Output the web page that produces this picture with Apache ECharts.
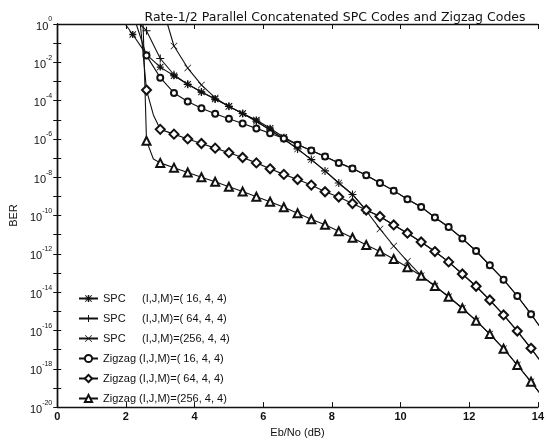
<!DOCTYPE html>
<html><head><meta charset="utf-8">
<script src="https://cdn.jsdelivr.net/npm/echarts@6/dist/echarts.min.js"></script>
<style>html,body{margin:0;padding:0;background:#fff}#c{width:547px;height:443px}</style>
</head><body><div id="c"></div>
<script>
// ---- data (Eb/No in dB, BER) ----
const xTicks = [0, 2, 4, 6, 8, 10, 12, 14];
const titleText = 'Rate-1/2 Parallel Concatenated SPC Codes and Zigzag Codes';
const seriesNames = [
  'SPC|(I,J,M)=( 16, 4, 4)',
  'SPC|(I,J,M)=( 64, 4, 4)',
  'SPC|(I,J,M)=(256, 4, 4)',
  'Zigzag|(I,J,M)=( 16, 4, 4)',
  'Zigzag|(I,J,M)=( 64, 4, 4)',
  'Zigzag|(I,J,M)=(256, 4, 4)'
];

const spc16X = [1.98, 2.2, 2.6, 3.0, 3.4, 3.8, 4.2, 4.6, 5.0, 5.4, 5.8, 6.2, 6.6, 7.0, 7.4, 7.8, 8.2, 8.6, 9.0, 9.4, 9.8, 10.2, 10.6, 11.0, 11.4, 11.8, 12.2, 12.6, 13.0, 13.4, 13.8, 14.2];
const spc16Y = [1, 2.82e-1, 2.51e-2, 5.62e-3, 2.0e-3, 7.08e-4, 2.82e-4, 1.2e-4, 5.01e-5, 2.14e-5, 9.77e-6, 3.63e-6, 1.23e-6, 5.13e-7, 2.51e-7, 1.2e-7, 5.62e-8, 2.82e-8, 1.26e-8, 5.01e-9, 2.0e-9, 7.08e-10, 2.82e-10, 7.94e-11, 2.51e-11, 6.31e-12, 1.41e-12, 2.51e-13, 4.47e-14, 6.31e-15, 7.08e-16, 7.08e-17];

const spc64X = [2.4, 2.6, 3.0, 3.4, 3.8, 4.2, 4.6, 5.0, 5.4, 5.8, 6.2, 6.6, 7.0, 7.4, 7.8, 8.2, 8.6, 9.0, 9.4, 9.8, 10.2, 10.6, 11.0, 11.4, 11.8, 12.2, 12.6, 13.0, 13.4, 13.8, 14.2];
const spc64Y = [1, 4.47e-1, 1.58e-2, 2.24e-3, 7.08e-4, 2.82e-4, 1.2e-4, 5.01e-5, 2.14e-5, 8.32e-6, 2.95e-6, 1.0e-6, 3.02e-7, 8.32e-8, 2.14e-8, 5.01e-9, 1.26e-9, 1.95e-10, 8.91e-11, 3.24e-11, 1.2e-11, 4.17e-12, 1.32e-12, 3.8e-13, 8.91e-14, 2.04e-14, 3.89e-15, 6.46e-16, 9.33e-17, 1.17e-17, 1.26e-18];

const spc256X = [3.21, 3.4, 3.8, 4.2, 4.6, 5.0, 5.4, 5.8, 6.2, 6.6, 7.0, 7.4, 7.8, 8.2, 8.6, 9.0, 9.4, 9.8, 10.2, 10.6, 11.0, 11.4, 11.8, 12.2, 12.6, 13.0, 13.4, 13.8, 14.2];
const spc256Y = [1, 7.08e-2, 5.01e-3, 6.61e-4, 1.38e-4, 5.01e-5, 2.14e-5, 8.32e-6, 2.95e-6, 1.0e-6, 3.02e-7, 8.32e-8, 2.14e-8, 5.01e-9, 1.26e-9, 1.78e-10, 2.0e-11, 2.57e-12, 4.07e-13, 7.24e-14, 2.09e-14, 5.75e-15, 1.45e-15, 3.24e-16, 6.46e-17, 1.12e-17, 1.58e-18, 2.09e-19, 2.51e-20];

const zig16X = [2.3, 2.6, 3.0, 3.4, 3.8, 4.2, 4.6, 5.0, 5.4, 5.8, 6.2, 6.6, 7.0, 7.4, 7.8, 8.2, 8.6, 9.0, 9.4, 9.8, 10.2, 10.6, 11.0, 11.4, 11.8, 12.2, 12.6, 13.0, 13.4, 13.8, 14.2];
const zig16Y = [1, 2.24e-2, 1.58e-3, 2.51e-4, 8.91e-5, 3.98e-5, 2.09e-5, 1.12e-5, 6.31e-6, 3.55e-6, 2.0e-6, 1.05e-6, 5.01e-7, 2.51e-7, 1.2e-7, 5.62e-8, 2.82e-8, 1.26e-8, 5.01e-9, 2.0e-9, 7.08e-10, 2.82e-10, 7.94e-11, 2.51e-11, 6.31e-12, 1.41e-12, 2.51e-13, 4.47e-14, 6.31e-15, 7.08e-16, 7.08e-17];

const zig64X = [2.42, 2.6, 2.8, 3.0, 3.4, 3.8, 4.2, 4.6, 5.0, 5.4, 5.8, 6.2, 6.6, 7.0, 7.4, 7.8, 8.2, 8.6, 9.0, 9.4, 9.8, 10.2, 10.6, 11.0, 11.4, 11.8, 12.2, 12.6, 13.0, 13.4, 13.8, 14.2];
const zig64Y = [1, 3.55e-4, 1.78e-5, 3.16e-6, 1.78e-6, 1.0e-6, 5.75e-7, 3.31e-7, 1.91e-7, 1.07e-7, 5.62e-8, 2.75e-8, 1.41e-8, 7.59e-9, 3.89e-9, 1.74e-9, 9.33e-10, 4.27e-10, 1.95e-10, 8.91e-11, 3.24e-11, 1.2e-11, 4.17e-12, 1.32e-12, 3.8e-13, 8.91e-14, 2.04e-14, 3.89e-15, 6.46e-16, 9.33e-17, 1.17e-17, 1.26e-18];

const zig256X = [2.5, 2.6, 2.8, 3.0, 3.4, 3.8, 4.2, 4.6, 5.0, 5.4, 5.8, 6.2, 6.6, 7.0, 7.4, 7.8, 8.2, 8.6, 9.0, 9.4, 9.8, 10.2, 10.6, 11.0, 11.4, 11.8, 12.2, 12.6, 13.0, 13.4, 13.8, 14.2];
const zig256Y = [1, 7.94e-7, 8.91e-8, 5.62e-8, 3.16e-8, 1.78e-8, 1.0e-8, 5.75e-9, 3.16e-9, 1.78e-9, 9.55e-10, 5.25e-10, 2.69e-10, 1.32e-10, 6.46e-11, 3.31e-11, 1.51e-11, 6.92e-12, 2.88e-12, 1.32e-12, 5.37e-13, 2.0e-13, 7.24e-14, 2.09e-14, 5.75e-15, 1.45e-15, 3.24e-16, 6.46e-17, 1.12e-17, 1.58e-18, 2.09e-19, 2.51e-20];

// ---- styling ----
const INK = '#111';
const ASTER = 'path://M0,1L1,0L10,9L9,10ZM9,0L10,1L1,10L0,9ZM4,0H6V10H4ZM0,4H10V6H0Z';
const PLUS = 'path://M4.3,0H5.7V4.3H10V5.7H5.7V10H4.3V5.7H0V4.3H4.3Z';
const CROSS = 'path://M0.7,0L5,4.3L9.3,0L10,0.7L5.7,5L10,9.3L9.3,10L5,5.7L0.7,10L0,9.3L4.3,5L0,0.7Z';
const styles = [
  {symbol: ASTER, size: 7, empty: false},
  {symbol: PLUS, size: 8, empty: false},
  {symbol: CROSS, size: 7, empty: false},
  {symbol: 'emptyCircle', size: 6, empty: true},
  {symbol: 'emptyDiamond', size: 9, empty: true},
  {symbol: 'emptyTriangle', size: 8, empty: true}
];
const xsAll = [spc16X, spc64X, spc256X, zig16X, zig64X, zig256X];
const ysAll = [spc16Y, spc64Y, spc256Y, zig16Y, zig64Y, zig256Y];

function onMarkerGrid(x) { const k = (x - 0.2) / 0.4; return Math.abs(k - Math.round(k)) < 0.02; }

const series = seriesNames.map((name, i) => ({
  name: name,
  type: 'line',
  xAxisIndex: 0, yAxisIndex: 0,
  symbol: styles[i].symbol,
  symbolSize: styles[i].size,
  showAllSymbol: true,
  clip: true,
  animation: false,
  lineStyle: {color: INK, width: 1.1},
  itemStyle: styles[i].empty ? {color: INK, borderColor: INK, borderWidth: 0.8} : {color: INK, borderWidth: 0},
  emphasis: {disabled: true},
  data: xsAll[i].map((x, j) => onMarkerGrid(x) ? [x, ysAll[i][j]] : {value: [x, ysAll[i][j]], symbol: 'none'}),
  z: 3
}));

const chart = echarts.init(document.getElementById('c'), null, {renderer: 'canvas'});
const FONT = 'Liberation Sans, Arial, Helvetica, sans-serif';
const expFmt = v => { const e = Math.round(Math.log10(v)); return (e % 2 === 0) ? '{b|10}{s|' + e + '}' : ''; };
const yAxisBase = {
  type: 'log', logBase: 10, min: 1e-20, max: 1, interval: 1, splitNumber: 20,
  axisLine: {show: true, lineStyle: {color: INK, width: 1.4}},
  axisTick: {inside: true, length: 4, lineStyle: {color: INK}},
  splitLine: {show: false}
};

chart.setOption({
  backgroundColor: '#fff',
  animation: false,
  title: {
    text: titleText, left: 330, top: 6, textAlign: 'center',
    textStyle: {fontFamily: 'DejaVu Sans, sans-serif', fontSize: 12.5, fontWeight: 'normal', color: INK}
  },
  grid: {left: 52, right: 3, top: 24, bottom: 29, containLabel: false},
  legend: {
    orient: 'vertical', left: 73, top: 288,
    itemWidth: 19, itemHeight: 9, itemGap: 9,
    textStyle: {fontFamily: FONT, fontSize: 11, color: INK,
      rich: {a: {width: 39, fontFamily: FONT, fontSize: 11, color: INK}, z: {fontFamily: FONT, fontSize: 11, color: INK}, t: {fontFamily: FONT, fontSize: 11, color: INK}}},
    formatter: n => { const p = n.split('|'); return (p[0] === 'SPC' ? '{a|' + p[0] + '}' : '{z|' + p[0] + ' }') + '{t|' + p[1] + '}'; },
    data: seriesNames
  },
  xAxis: [{
    type: 'value', min: xTicks[0], max: xTicks[xTicks.length - 1], interval: 2,
    position: 'bottom',
    name: 'Eb/No (dB)', nameLocation: 'middle', nameGap: 17,
    nameTextStyle: {fontFamily: FONT, fontSize: 11, color: INK},
    axisLine: {lineStyle: {color: INK, width: 1.4}},
    axisTick: {inside: true, length: 5, lineStyle: {color: INK}},
    axisLabel: {margin: 4, fontFamily: FONT, fontSize: 11, fontWeight: 'bold', color: INK},
    splitLine: {show: false}
  }, {
    type: 'value', min: 0, max: 14, interval: 2, position: 'top',
    axisLine: {lineStyle: {color: INK, width: 1.4}},
    axisTick: {inside: true, length: 5, lineStyle: {color: INK}},
    axisLabel: {show: false}, splitLine: {show: false}
  }],
  yAxis: [Object.assign({}, yAxisBase, {
    position: 'left',
    name: 'BER', nameLocation: 'middle', nameGap: 34,
    nameTextStyle: {fontFamily: FONT, fontSize: 11, color: INK},
    axisLabel: {margin: 5, formatter: expFmt,
      rich: {b: {fontFamily: FONT, fontSize: 11, color: INK, verticalAlign: 'bottom', lineHeight: 16},
             s: {fontFamily: FONT, fontSize: 7, color: INK, verticalAlign: 'top', lineHeight: 16}}}
  }), Object.assign({}, yAxisBase, {
    position: 'right', axisLabel: {show: false}
  })],
  series: series
});
</script></body></html>
